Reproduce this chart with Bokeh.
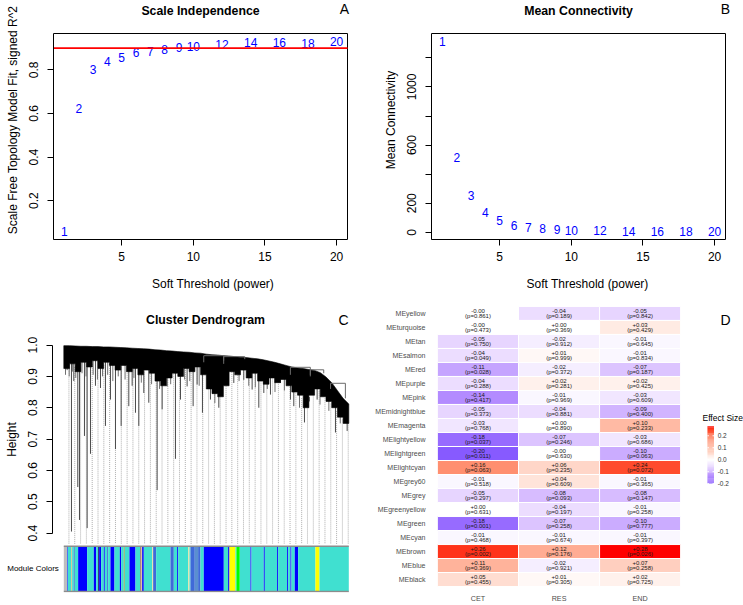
import numpy as np
from bokeh.plotting import figure
from bokeh.layouts import row, column
from bokeh.models import Range1d, FixedTicker, Label, PrintfTickFormatter, ColumnDataSource
from bokeh.core.properties import value
from bokeh.embed import file_html
from bokeh.resources import INLINE

FONT = "Liberation Sans"

# ---------------- data: soft threshold ----------------
powers = [1, 2, 3, 4, 5, 6, 7, 8, 9, 10, 12, 14, 16, 18, 20]
sft_r2 = [0.057, 0.625, 0.800, 0.838, 0.857, 0.878, 0.885, 0.895, 0.901, 0.908,
          0.918, 0.926, 0.926, 0.922, 0.932]
mean_k = [1315, 512, 250, 135, 78, 48, 33, 23, 17, 13, 9, 7, 5, 4, 3]
r2_cutoff = 0.90

# ---------------- data: dendrogram (leaf order in % of genes) ----------------
mass_pos = [0, 2, 4, 6, 8, 10, 12, 14, 16, 18, 20, 22, 24, 26, 28, 30, 32, 34, 36, 38,
            40, 42, 44, 46, 48, 50, 52, 54, 56, 58, 60, 62, 64, 66, 68, 70, 72, 74, 76, 78,
            80, 82, 84, 86, 88, 90, 92, 94, 96, 98, 100]
mass_top = [0.998, 0.998, 0.997, 0.996, 0.996, 0.995, 0.995, 0.994, 0.994, 0.993,
            0.992, 0.991, 0.990, 0.989, 0.988, 0.987, 0.985, 0.984, 0.982, 0.981,
            0.979, 0.978, 0.977, 0.975, 0.974, 0.971, 0.969, 0.968, 0.966, 0.965,
            0.963, 0.961, 0.960, 0.958, 0.956, 0.953, 0.949, 0.945, 0.940, 0.935,
            0.930, 0.927, 0.925, 0.922, 0.919, 0.912, 0.898, 0.880, 0.855, 0.830, 0.812]
mass_bottom = [0.925, 0.940, 0.915, 0.945, 0.930, 0.950, 0.925, 0.945, 0.935, 0.920,
               0.935, 0.915, 0.925, 0.905, 0.920, 0.910, 0.885, 0.870, 0.895, 0.910,
               0.900, 0.925, 0.915, 0.930, 0.905, 0.860, 0.845, 0.835, 0.870, 0.915,
               0.905, 0.920, 0.895, 0.910, 0.885, 0.875, 0.895, 0.880, 0.890, 0.870,
               0.850, 0.840, 0.800, 0.840, 0.860, 0.835, 0.820, 0.800, 0.770, 0.750]
drop_pos = [2.69, 4.91, 5.50, 7.25, 8.19, 9.36, 12.87, 14.62, 18.13, 20.12, 22.81, 25.15,
            26.32, 29.82, 32.75, 34.50, 39.18, 40.94, 45.38, 48.65, 54.39, 68.42, 72.51,
            84.44, 95.32, 99.42,
            1.17, 3.51, 11.11, 16.37, 23.98, 28.07, 36.26, 43.27, 46.78, 51.46, 59.65,
            63.16, 66.08, 70.18, 76.02, 79.53, 80.70, 88.89, 91.81]
drop_tip = [0.405, 0.547, 0.442, 0.710, 0.416, 0.653, 0.863, 0.742, 0.668, 0.742, 0.805, 0.784,
            0.742, 0.816, 0.537, 0.795, 0.637, 0.826, 0.805, 0.784, 0.800, 0.800, 0.842,
            0.753, 0.721, 0.726,
            0.920, 0.885, 0.870, 0.826, 0.870, 0.847, 0.868, 0.868, 0.874, 0.826, 0.879,
            0.889, 0.858, 0.847, 0.879, 0.826, 0.805, 0.826, 0.837]
strand_pos = [0.6, 1.9, 3.0, 4.2, 6.4, 7.8, 10.3, 11.8, 13.6, 15.4, 17.2, 19.1, 21.5, 24.6,
              27.2, 30.8, 33.6, 37.5, 42.4, 44.2, 47.5, 53.0, 57.2, 61.5, 64.9, 67.2, 71.4,
              74.1, 77.4, 82.7, 86.2, 89.9, 93.0, 97.0]
strand_tip = [0.905, 0.900, 0.915, 0.895, 0.910, 0.900, 0.905, 0.890, 0.900, 0.905, 0.885,
              0.900, 0.890, 0.895, 0.880, 0.875, 0.860, 0.875, 0.890, 0.885, 0.870, 0.815,
              0.875, 0.885, 0.870, 0.865, 0.860, 0.850, 0.855, 0.800, 0.820, 0.810, 0.790,
              0.750]
merge_left = [49.1, 56.1, 79.5, 86.5, 93.6]
merge_right = [56.1, 63.5, 86.5, 91.2, 98.8]
merge_height = [0.966, 0.963, 0.929, 0.921, 0.878]
merge_left_end = [0.945, 0.950, 0.905, 0.905, 0.860]
merge_right_end = [0.940, 0.955, 0.900, 0.910, 0.830]

module_start = [0, 1.17, 1.40, 2.57, 2.92, 3.51, 3.86, 5.03, 8.19, 10.53, 11.35, 12.05, 12.40,
                13.10, 14.04, 14.39, 15.20, 15.56, 16.37, 17.78, 19.65, 20.12, 21.05, 21.40,
                23.04, 25.15, 26.90, 27.25, 27.49, 28.07, 30.99, 31.35, 32.40, 37.43, 38.60,
                39.77, 40.12, 43.63, 44.09, 44.44, 45.96, 47.13, 47.95, 49.12, 56.14, 57.66,
                58.13, 60.23, 60.58, 61.75, 65.50, 65.85, 70.18, 70.53, 74.85, 75.20, 78.36,
                78.71, 79.53, 79.88, 81.05, 82.22, 88.30, 89.71]
module_color = ["grey", "blue", "turquoise", "tan", "turquoise", "royalblue", "turquoise", "blue",
                "turquoise", "blue", "turquoise", "midnightblue", "blue", "turquoise", "blue",
                "turquoise", "royalblue", "turquoise", "blue", "turquoise", "blue", "turquoise",
                "olive", "turquoise", "blue", "turquoise", "brown", "lightyellow", "blue",
                "turquoise", "lightyellow", "royalblue", "turquoise", "royalblue", "turquoise",
                "blue", "turquoise", "lightyellow", "turquoise", "royalblue", "steelblue",
                "royalblue", "turquoise", "blue", "turquoise", "blue", "yellow", "turquoise",
                "green", "turquoise", "blue", "turquoise", "blue", "turquoise", "blue",
                "turquoise", "blue", "turquoise", "blue", "turquoise", "blue", "turquoise",
                "yellow", "turquoise"]

# ---------------- data: module-trait heatmap ----------------
modules = ["MEyellow", "MEturquoise", "MEtan", "MEsalmon", "MEred", "MEpurple", "MEpink",
           "MEmidnightblue", "MEmagenta", "MElightyellow", "MElightgreen", "MElightcyan",
           "MEgrey60", "MEgrey", "MEgreenyellow", "MEgreen", "MEcyan", "MEbrown", "MEblue",
           "MEblack"]
traits = ["CET", "RES", "END"]
eff_cet = [-0.0, -0.0, -0.05, -0.04, -0.11, -0.04, -0.14, -0.05, -0.03, -0.18, -0.20, 0.16,
           -0.01, -0.05, 0.0, -0.18, -0.01, 0.26, 0.11, 0.05]
p_cet = [0.861, 0.473, 0.750, 0.049, 0.028, 0.288, 0.417, 0.373, 0.768, 0.037, 0.011, 0.063,
         0.518, 0.297, 0.631, 0.001, 0.468, 0.002, 0.369, 0.455]
eff_res = [-0.04, 0.0, -0.02, 0.01, -0.02, 0.02, -0.01, -0.04, 0.0, -0.07, -0.0, 0.06,
           0.04, -0.08, -0.04, -0.07, -0.01, 0.12, -0.02, 0.01]
p_res = [0.189, 0.369, 0.912, 0.999, 0.372, 0.281, 0.969, 0.881, 0.890, 0.246, 0.630, 0.235,
         0.609, 0.093, 0.197, 0.258, 0.674, 0.176, 0.921, 0.305]
eff_end = [-0.05, 0.03, -0.01, -0.01, -0.07, 0.02, -0.03, -0.09, 0.10, -0.03, -0.10, 0.24,
           -0.01, -0.08, -0.01, -0.10, -0.01, 0.28, 0.07, 0.02]
p_end = [0.842, 0.429, 0.645, 0.834, 0.187, 0.425, 0.609, 0.400, 0.233, 0.686, 0.063, 0.072,
         0.365, 0.147, 0.258, 0.777, 0.397, 0.026, 0.258, 0.725]
legend_ticks = [-0.2, -0.1, 0.0, 0.1, 0.2]

COLORS = {"grey": "#BEBEBE", "blue": "#0000FF", "turquoise": "#40E0D0", "tan": "#D2C88C",
          "royalblue": "#3F6AD8", "midnightblue": "#191970", "olive": "#A0A050",
          "brown": "#A52A2A", "lightyellow": "#E2E2A8", "steelblue": "#5A8FD0",
          "yellow": "#FFFF00", "green": "#00FF00"}


# ---------------- helpers ----------------
def r_range(vals, pad=0.04):
    lo, hi = min(vals), max(vals)
    d = (hi - lo) * pad
    return lo - d, hi + d


def lin(d0, p0, d1, p1, p):
    return d0 + (p - p0) * (d1 - d0) / (p1 - p0)


def style_r_axes(p):
    for ax in list(p.xaxis) + list(p.yaxis):
        ax.axis_line_color = "black"
        ax.major_tick_line_color = "black"
        ax.minor_tick_line_color = None
        ax.major_tick_out = 6
        ax.major_tick_in = 0
        ax.major_label_text_font = FONT
        ax.major_label_text_font_size = "12px"
        ax.major_label_text_color = "black"
        ax.axis_label_text_font = FONT
        ax.axis_label_text_font_size = "12px"
        ax.axis_label_text_font_style = "normal"
        ax.axis_label_text_color = "black"
    for ax in p.xaxis:
        ax.major_label_standoff = 6
        ax.axis_label_standoff = 13
    for ax in p.yaxis:
        ax.major_label_orientation = "vertical"
        ax.major_label_standoff = 9
        ax.axis_label_standoff = 7


def add_text(p, x, y, txt, size, bold=False, align="center", baseline="middle", color="black"):
    p.add_layout(Label(x=x, y=y, text=txt, text_font=FONT,
                       text_font_size=size, text_font_style="bold" if bold else "normal",
                       text_align=align, text_baseline=baseline, text_color=color))


def base_fig(w, h, xr, yr, L, R, T, B, **kw):
    p = figure(width=w, height=h, x_range=xr, y_range=yr, output_backend="svg",
               toolbar_location=None, min_border_left=L, min_border_right=R,
               min_border_top=T, min_border_bottom=B, title=None, **kw)
    p.xgrid.visible = False
    p.ygrid.visible = False
    p.outline_line_color = None
    p.background_fill_color = "white"
    p.border_fill_color = "white"
    return p


def r_scatter_panel(w, vals, box_px, title, letter, letter_px, ylabel, yticks, overrides=None):
    bl, br, bt, bb = box_px
    x0, x1 = r_range(powers)
    y0, y1 = r_range(vals)
    xr = Range1d(x0, lin(x0, bl, x1, br, w))
    yr = Range1d(y0, lin(y0, bb, y1, bt, 0))
    p = base_fig(w, 300, xr, yr, bl, 0, 0, 300 - bb)
    p.quad(left=[x0], right=[x1], bottom=[y0], top=[y1], fill_color=None,
           line_color="black", line_width=1)
    p.text(x=powers, y=vals, text=[str(v) for v in powers], text_align="center",
           text_baseline="middle", text_color="blue", text_font_size="12px",
           text_font=value(FONT))
    p.xaxis.ticker = FixedTicker(ticks=[5, 10, 15, 20])
    p.xaxis.bounds = (x0, x1)
    p.yaxis.ticker = FixedTicker(ticks=yticks)
    p.yaxis.bounds = (y0, y1)
    if overrides:
        p.yaxis.major_label_overrides = overrides
    p.xaxis.axis_label = "Soft Threshold (power)"
    p.yaxis.axis_label = ylabel
    style_r_axes(p)
    add_text(p, lin(x0, bl, x1, br, (bl + br) / 2), lin(y0, bb, y1, bt, 10), title,
             "12.3px", bold=True)
    add_text(p, lin(x0, bl, x1, br, letter_px), lin(y0, bb, y1, bt, 8), letter, "14px")
    return p, (x0, x1)


# ---------------- panel A ----------------
pA, (ax0, ax1) = r_scatter_panel(372, sft_r2, (53, 347, 33, 239), "Scale Independence", "A", 344,
                                 "Scale Free Topology Model Fit, signed R^2", [0.2, 0.4, 0.6, 0.8])
pA.segment(x0=[ax0], y0=[r2_cutoff], x1=[ax1], y1=[r2_cutoff], line_color="red", line_width=1.8)

# ---------------- panel B ----------------
pB, _ = r_scatter_panel(371, mean_k, (59, 353, 33, 239), "Mean Connectivity", "B", 353,
                        "Mean Connectivity", [0, 200, 400, 600, 800, 1000, 1200],
                        {400: "", 800: "", 1200: ""})

# ---------------- panel C (dendrogram + module colours) ----------------
leaf_px0, leaf_px1 = 63.3, 348.3          # pixel span of the leaves
h1_px, h04_px = 45, 235                    # pixel rows of heights 1.0 and 0.4
CW, CH = 372, 305
BOT_FRAME = 295                            # shared frame bottom of the lower row (px)
AXIS_PX = 52                               # pixel column of the height axis


def cx_(px):
    return lin(0, leaf_px0, 100, leaf_px1, px)


def cy_(py):
    return lin(1.0, h1_px, 0.4, h04_px, py)


# frame spans the whole panel width; the height axis is pinned at its pixel column
xc = Range1d(cx_(0), cx_(352))
yc = Range1d(cy_(BOT_FRAME), cy_(0))
pC = base_fig(CW, CH, xc, yc, 0, 20, 0, CH - BOT_FRAME, x_axis_location=None)

bar_top_px, bar_bot_px = 248.3, 294.0
bar_top, bar_bottom = cy_(bar_top_px), cy_(bar_bot_px)
guide_x = np.linspace(1.8, 99.8, 49)
mass_mid = np.array(mass_pos[:-1]) + 1.0
guide_top = np.interp(guide_x, mass_mid, mass_bottom)
pC.segment(x0=guide_x, y0=guide_top, x1=guide_x, y1=cy_(246), line_color="#9a9a9a",
           line_width=0.8, line_dash="1 1")

strand_top = np.interp(strand_pos, mass_mid, mass_bottom) + 0.01
pC.segment(x0=strand_pos, y0=strand_top, x1=strand_pos, y1=strand_tip, line_color="#707070",
           line_width=1.0)
drop_top = np.interp(drop_pos, mass_mid, mass_bottom) + 0.01
pC.segment(x0=drop_pos, y0=drop_top, x1=drop_pos, y1=drop_tip, line_color="#4a4a4a",
           line_width=1.0)

pxs = list(mass_pos)
pys = list(mass_top)
for i in range(len(mass_bottom) - 1, -1, -1):
    pxs += [mass_pos[i + 1], mass_pos[i]]
    pys += [mass_bottom[i], mass_bottom[i]]
pC.patch(x=pxs, y=pys, fill_color="black", line_color="black", line_width=0.6)

xs = [[l, l, r, r] for l, r in zip(merge_left, merge_right)]
ys = [[le, h, h, re] for le, h, re in zip(merge_left_end, merge_height, merge_right_end)]
pC.multi_line(xs=xs, ys=ys, line_color="#6a6a6a", line_width=1)

module_end = module_start[1:] + [100]
pC.quad(left=module_start, right=module_end, top=bar_top, bottom=bar_bottom,
        fill_color=[COLORS[c] for c in module_color], line_color=None)
pC.segment(x0=[0, 0], y0=[bar_top, bar_bottom], x1=[100, 100], y1=[bar_top, bar_bottom],
           line_color="#8c8c8c", line_width=1.5)

pC.yaxis.fixed_location = cx_(AXIS_PX)
pC.yaxis.bounds = (0.4, 1.0)
pC.yaxis.ticker = FixedTicker(ticks=[0.4, 0.5, 0.6, 0.7, 0.8, 0.9, 1.0])
pC.yaxis.formatter = PrintfTickFormatter(format="%.1f")
pC.yaxis.axis_label = "Height"
style_r_axes(pC)
add_text(pC, cx_(205), cy_(20), "Cluster Dendrogram", "12.3px", bold=True)
add_text(pC, cx_(343), cy_(20), "C", "14px")
add_text(pC, cx_(58.3), (bar_top + bar_bottom) / 2, "Module Colors", "8px", align="right")

# ---------------- panel D ----------------
def srgb_lin(c):
    c = c / 255.0
    return ((c + 0.055) / 1.055) ** 2.4 if c > 0.04045 else c / 12.92


def hex2lab(h):
    r, g, b = [srgb_lin(int(h[i:i + 2], 16)) for i in (1, 3, 5)]
    X = (0.4124564 * r + 0.3575761 * g + 0.1804375 * b) / 0.95047
    Y = 0.2126729 * r + 0.7151522 * g + 0.0721750 * b
    Z = (0.0193339 * r + 0.1191920 * g + 0.9503041 * b) / 1.08883
    f = lambda t: t ** (1 / 3) if t > 0.008856 else 7.787 * t + 16 / 116
    fx, fy, fz = f(X), f(Y), f(Z)
    return np.array([116 * fy - 16, 500 * (fx - fy), 200 * (fy - fz)])


def lab2hex(lab):
    L, a, b = lab
    fy = (L + 16) / 116
    fx = fy + a / 500
    fz = fy - b / 200
    finv = lambda t: t ** 3 if t ** 3 > 0.008856 else (t - 16 / 116) / 7.787
    X, Y, Z = finv(fx) * 0.95047, finv(fy), finv(fz) * 1.08883
    R = 3.2404542 * X - 1.5371385 * Y - 0.4985314 * Z
    G = -0.9692660 * X + 1.8760108 * Y + 0.0415560 * Z
    B = 0.0556434 * X - 0.2040259 * Y + 1.0572252 * Z

    def g(c):
        c = 12.92 * c if c <= 0.0031308 else 1.055 * c ** (1 / 2.4) - 0.055
        return int(round(min(max(c, 0), 1) * 255))
    return "#%02x%02x%02x" % (g(R), g(G), g(B))


LOW, MID, HIGH = hex2lab("#0000FF"), hex2lab("#FFFFFF"), hex2lab("#FF0000")
all_eff = eff_cet + eff_res + eff_end
vmin, vmax = min(all_eff), max(all_eff)
extent = max(abs(vmin), abs(vmax))


def fill_of(v):
    t = v / extent / 2 + 0.5
    if t <= 0.5:
        return lab2hex(LOW + (MID - LOW) * (t / 0.5))
    return lab2hex(MID + (HIGH - MID) * ((t - 0.5) / 0.5))


nrow = len(modules)
dL = 63                          # frame left (px)
cells_top, cells_bot = 6, 289    # pixel rows of the heatmap's top and bottom edges
col_px = 244.7 / 3
row_px = (cells_bot - cells_top) / nrow


def dx(px):
    return 0.5 + (px - dL) / col_px


def dy(py):
    return (nrow - 1) - (py - cells_top - row_px / 2) / row_px


xd = Range1d(0.5, dx(371))
yd = Range1d(dy(BOT_FRAME), dy(0))
pD = base_fig(371, 305, xd, yd, dL, 0, 0, 305 - BOT_FRAME)

row_y = [nrow - 1 - i for i in range(nrow)]
cxs, cys, cf, t1, t2 = [], [], [], [], []
for j, (eff, pv) in enumerate([(eff_cet, p_cet), (eff_res, p_res), (eff_end, p_end)]):
    for i in range(nrow):
        cxs.append(j + 1)
        cys.append(row_y[i])
        cf.append(fill_of(eff[i]))
        t1.append(f"{eff[i]:+.2f}")
        t2.append(f"(p={pv[i]:.3f})")
src = ColumnDataSource(dict(x=cxs, y=cys, fill=cf, t1=t1, t2=t2))
pD.rect(x="x", y="y", width=1, height=1, source=src, fill_color="fill", line_color="white",
        line_width=1)
pD.text(x="x", y="y", text="t1", source=src, text_align="center", text_baseline="middle",
        y_offset=-2.7, text_font=value(FONT), text_font_size="6px", text_color="#1a1a1a")
pD.text(x="x", y="y", text="t2", source=src, text_align="center", text_baseline="middle",
        y_offset=2.7, text_font=value(FONT), text_font_size="6px", text_color="#1a1a1a")

pD.xaxis.ticker = FixedTicker(ticks=[1, 2, 3])
pD.xaxis.major_label_overrides = {i + 1: t for i, t in enumerate(traits)}
pD.yaxis.ticker = FixedTicker(ticks=row_y)
pD.yaxis.major_label_overrides = {row_y[i]: m for i, m in enumerate(modules)}
for ax in list(pD.xaxis) + list(pD.yaxis):
    ax.axis_line_color = None
    ax.major_tick_line_color = None
    ax.minor_tick_line_color = None
    ax.major_tick_out = 0
    ax.major_tick_in = 0
    ax.major_label_text_font = FONT
    ax.major_label_text_color = "#4d4d4d"
pD.xaxis.major_label_text_font_size = "7.2px"
pD.xaxis.major_label_standoff = 1
pD.yaxis.major_label_text_font_size = "7px"
pD.yaxis.major_label_standoff = 12

# colour legend (continuous bar)
leg_x0, leg_x1 = dx(706.7 - 372), dx(713.3 - 372)
leg_y0, leg_y1 = dy(485 - 300), dy(427 - 300)
steps = np.linspace(vmin, vmax, 61)


def leg_y(v):
    return leg_y0 + (v - vmin) / (vmax - vmin) * (leg_y1 - leg_y0)


pD.quad(left=leg_x0, right=leg_x1, bottom=[leg_y(v) for v in steps[:-1]],
        top=[leg_y(v) for v in steps[1:]],
        fill_color=[fill_of((a + b) / 2) for a, b in zip(steps[:-1], steps[1:])],
        line_color=None)
tk = [leg_y(v) for v in legend_ticks]
tick_w = (leg_x1 - leg_x0) * 0.22
pD.segment(x0=[leg_x0] * 5, y0=tk, x1=[leg_x0 + tick_w] * 5, y1=tk, line_color="white", line_width=1)
pD.segment(x0=[leg_x1 - tick_w] * 5, y0=tk, x1=[leg_x1] * 5, y1=tk, line_color="white", line_width=1)
pD.text(x=[dx(717 - 372)] * 5, y=tk, text=[f"{v:.1f}" for v in legend_ticks], text_align="left",
        text_baseline="middle", text_font=value(FONT), text_font_size="6.5px", text_color="#333333")
add_text(pD, dx(701.7 - 372), dy(419 - 300), "Effect Size", "8.5px", align="left")
add_text(pD, dx(725 - 372), dy(20), "D", "14px")

layout = column(row(pA, pB), row(pC, pD))
open("out.html", "w").write(file_html(layout, INLINE))
